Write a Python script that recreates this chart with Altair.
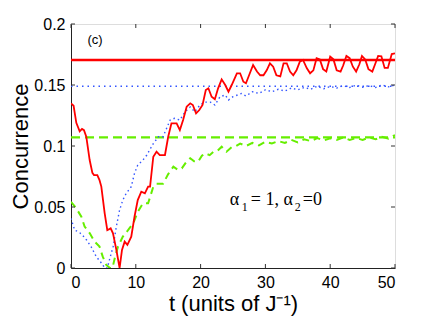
import altair as alt
import pandas as pd

# ---- data ----
red_t = [0, 0.4, 0.82, 1.34, 1.7, 2.0, 2.36, 2.88, 3.3, 3.55, 4.06, 4.4, 4.68, 5.2, 5.6, 6.12, 6.48,
         7.0, 7.5, 7.87, 8.28, 8.7, 9.3, 9.8, 10.3, 10.85, 11.4, 11.9, 12.2, 12.7, 13.2, 13.7, 14.5,
         15.0, 15.5, 16.3, 16.8, 17.3, 17.85, 18.4, 18.8, 19.3, 19.8, 20.3, 20.8, 21.2, 21.7, 22.2,
         22.7, 23.25, 23.8, 24.3, 24.8, 25.6, 26.1, 26.6, 27.0, 27.6, 28.1, 28.7, 29.2, 29.7, 30.2,
         30.7, 31.2, 31.7, 32.3, 32.8, 33.3, 33.8, 34.3, 34.8, 35.3, 35.8, 36.4, 36.9, 37.4, 37.9,
         38.4, 38.9, 39.4, 40.0, 40.5, 41.0, 41.6, 42.0, 42.5, 43.0, 43.5, 44.0, 44.5, 44.9, 45.4,
         45.9, 46.5, 47.0, 47.4, 47.9, 48.4, 48.9, 49.5, 50]
red_v = [0.135, 0.133, 0.119, 0.112, 0.114, 0.113, 0.1077, 0.0885, 0.078, 0.0762, 0.0762, 0.072,
         0.0667, 0.0448, 0.031, 0.0325, 0.0284, 0.0148, 0.0, 0.0148, 0.0216, 0.0189, 0.0257, 0.042,
         0.0557, 0.0625, 0.0612, 0.0667, 0.0667, 0.0912, 0.0953, 0.0926, 0.0926, 0.1076, 0.1186,
         0.1186, 0.113, 0.1213, 0.1322, 0.135, 0.1336, 0.1268, 0.1295, 0.1336, 0.1459, 0.1473,
         0.1404, 0.1383, 0.1473, 0.1546, 0.150, 0.1445, 0.150, 0.1596, 0.1596, 0.1527, 0.1514,
         0.1596, 0.1664, 0.161, 0.158, 0.158, 0.162, 0.1678, 0.165, 0.158, 0.157, 0.1678, 0.1678,
         0.161, 0.158, 0.162, 0.169, 0.1705, 0.1637, 0.1596, 0.162, 0.172, 0.171, 0.163, 0.161,
         0.1732, 0.171, 0.162, 0.161, 0.166, 0.1738, 0.172, 0.165, 0.161, 0.167, 0.1738, 0.171,
         0.163, 0.161, 0.168, 0.1738, 0.1735, 0.164, 0.164, 0.1754, 0.176]

blue_t = [0, 0.57, 1.0, 1.6, 2.4, 3.1, 3.9, 4.7, 5.2, 5.6, 6.0, 6.5, 7.0, 7.5, 8.0, 8.5, 9.3, 9.8,
          10.3, 11.1, 11.7, 12.7, 13.5, 14.2, 15.3, 16.0, 16.8, 17.6, 18.4, 19.1, 19.9, 20.7, 21.5,
          22.2, 23.0, 23.8, 24.3, 25.0, 26.3, 27, 28, 29, 30, 31, 32, 33, 34, 35, 36, 37, 38, 39,
          40, 41, 42, 43, 44, 45, 46, 47, 48, 49, 50]
blue_v = [0.0407, 0.031, 0.030, 0.028, 0.023, 0.0175, 0.0093, 0.004, 0.0, 0.0, 0.008, 0.0175,
          0.034, 0.0475, 0.0557, 0.061, 0.0667, 0.0776, 0.0844, 0.0885, 0.0926, 0.102, 0.1076,
          0.1076, 0.1213, 0.1227, 0.1213, 0.128, 0.132, 0.128, 0.1336, 0.136, 0.136, 0.1336, 0.1404,
          0.1418, 0.1377, 0.1404, 0.143, 0.141, 0.1445, 0.143, 0.146, 0.1445, 0.1465, 0.145, 0.1475,
          0.146, 0.148, 0.1465, 0.149, 0.147, 0.1488, 0.1475, 0.1495, 0.148, 0.1498, 0.1482, 0.1495,
          0.148, 0.150, 0.1485, 0.150]

green_t = [0, 0.8, 1.6, 2.1, 2.9, 3.65, 4.4, 4.9, 5.45, 6.0, 6.4, 6.75, 7.25, 8.0, 8.8, 9.6, 10.3,
           11.1, 11.9, 12.2, 12.7, 13.2, 14.2, 15.0, 15.8, 16.5, 17.1, 17.8, 18.4, 19.0, 19.6, 20.2,
           20.7, 21.4, 22.0, 22.6, 23.25, 24.0, 24.8, 25.5, 26.1, 27, 28, 29, 30, 31, 32, 33, 34, 35,
           36, 37, 38, 39, 40, 41, 42, 43, 44, 45, 46, 47, 48, 49, 50]
green_v = [0.0543, 0.049, 0.042, 0.034, 0.0284, 0.0216, 0.0175, 0.0093, 0.0025, 0.0, 0.0, 0.008,
           0.0175, 0.0257, 0.031, 0.0366, 0.046, 0.053, 0.053, 0.058, 0.0667, 0.069, 0.069, 0.077,
           0.083, 0.0805, 0.0817, 0.087, 0.090, 0.0875, 0.087, 0.092, 0.094, 0.0925, 0.0953, 0.096,
           0.0994, 0.0953, 0.099, 0.100, 0.102, 0.100, 0.1025, 0.1005, 0.1035, 0.102, 0.104, 0.1025,
           0.105, 0.103, 0.1055, 0.104, 0.1065, 0.1045, 0.1063, 0.105, 0.107, 0.105, 0.1065, 0.105,
           0.107, 0.1055, 0.1075, 0.106, 0.109]

asym_red = 0.1705
asym_blue = 0.149
asym_green = 0.107
t_span = [0, 50]

x_ticks = [0, 10, 20, 30, 40, 50]
y_ticks = [0, 0.05, 0.1, 0.15, 0.2]

panel_label = "(c)"
param_parts = ["\u03b1", "1", "= 1, \u03b1", "2", "=0"]

RED = "#ff0000"
BLUE = "#3355ff"
GREEN = "#66ee00"
W, H = 324, 244

xs = alt.Scale(domain=[0, 50], nice=False)
ys = alt.Scale(domain=[0, 0.2], nice=False)

xaxis = alt.Axis(values=x_ticks, format="d", tickSize=0, grid=False, domainColor="#222",
                 labelFont="Liberation Sans", labelFontSize=16, labelColor="#000", labelPadding=6,
                 title="t (units of J\u207b\u00b9)", titleFont="Liberation Sans", titleFontSize=22,
                 titleFontWeight="normal", titleColor="#000", titleY=42, titleBaseline="alphabetic")
yaxis = alt.Axis(values=y_ticks, format=".2~f", tickSize=0, grid=False, domainColor="#222",
                 labelFont="Liberation Sans", labelFontSize=16, labelColor="#000", labelPadding=6,
                 title="Concurrence", titleFont="Liberation Sans", titleFontSize=22,
                 titleFontWeight="normal", titleColor="#000", titleX=-51, titleY=H / 2,
                 titleAngle=-90, titleBaseline="middle", titleAlign="center")

X = lambda: alt.X("t:Q", scale=xs, axis=xaxis)
Y = lambda: alt.Y("v:Q", scale=ys, axis=yaxis)

def curve(ts, vs):
    return pd.DataFrame({"t": ts, "v": vs, "o": list(range(len(ts)))})

def hline(v):
    return pd.DataFrame({"t": t_span, "v": [v, v], "o": [0, 1]})

def line(df, color, width, dash=None):
    kw = dict(color=color, strokeWidth=width, clip=True)
    if dash:
        kw["strokeDash"] = dash
    return alt.Chart(df).mark_line(**kw).encode(x=X(), y=Y(), order="o:Q")

layers = [
    line(hline(asym_green), GREEN, 2.2, [9, 5]),
    line(hline(asym_blue), BLUE, 1.6, [1.5, 4]),
    line(hline(asym_red), RED, 2.5),
    line(curve(green_t, green_v), GREEN, 2.0, [7, 5]),
    line(curve(blue_t, blue_v), BLUE, 1.4, [1.5, 3]),
    line(curve(red_t, red_v), RED, 1.8),
]

# inward tick marks (box style)
xt = pd.DataFrame({"t": x_ticks})
yt = pd.DataFrame({"v": y_ticks})
tick_color = "#333"
layers += [
    alt.Chart(xt).mark_rule(color=tick_color, strokeWidth=1).encode(
        x=X(), y=alt.value(H), y2=alt.value(H - 4)),
    alt.Chart(xt).mark_rule(color=tick_color, strokeWidth=1).encode(
        x=X(), y=alt.value(0), y2=alt.value(4)),
    alt.Chart(yt).mark_rule(color=tick_color, strokeWidth=1).encode(
        y=Y(), x=alt.value(0), x2=alt.value(4)),
    alt.Chart(yt).mark_rule(color=tick_color, strokeWidth=1).encode(
        y=Y(), x=alt.value(W), x2=alt.value(W - 4)),
]

# annotations
lab_c = pd.DataFrame({"t": [3.7], "v": [0.187], "s": [panel_label]})
layers.append(
    alt.Chart(lab_c).mark_text(font="Liberation Sans", fontSize=13, color="#000",
                               align="center", baseline="middle").encode(x=X(), y=Y(), text="s:N"))

anchor_t, anchor_v = 24.5, 0.0516
offsets = [0, 12, 21, 65, 73]
sizes = [18, 12, 18, 12, 18]
drops = [0, 6, 0, 6, 0]
for part, dx, fs, dy in zip(param_parts, offsets, sizes, drops):
    d = pd.DataFrame({"t": [anchor_t], "v": [anchor_v], "s": [part]})
    layers.append(
        alt.Chart(d).mark_text(font="Liberation Serif", fontSize=fs, color="#000", align="left",
                               baseline="alphabetic", dx=dx, dy=dy).encode(x=X(), y=Y(), text="s:N"))

chart = alt.layer(*layers).properties(
    width=W, height=H,
    autosize=alt.AutoSizeParams(type="none"),
    padding={"left": 63, "top": 16, "right": 30, "bottom": 56},
).configure_view(stroke="#777", strokeWidth=1).configure(background="white")

chart.save("out.html", embed_options={"renderer": "svg", "actions": False})
